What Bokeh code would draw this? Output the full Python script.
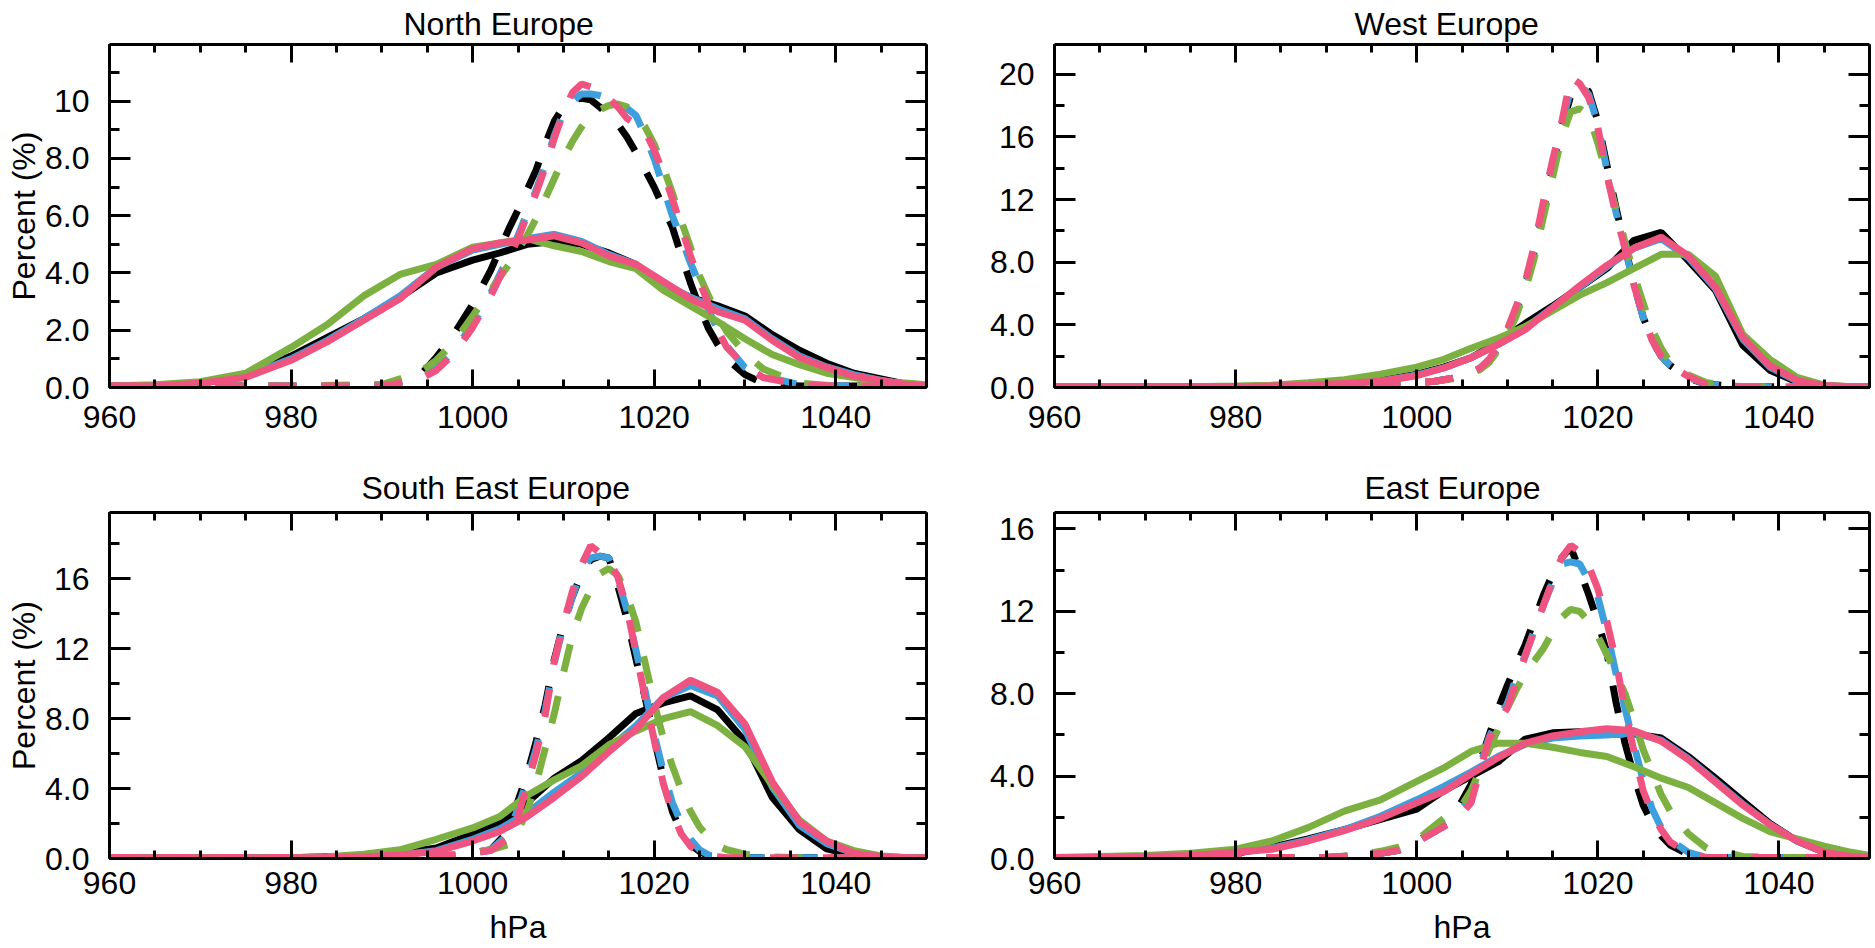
from bokeh.plotting import figure
from bokeh.layouts import column, row
from bokeh.models import Range1d, LinearAxis, SingleIntervalTicker, CustomJSTickFormatter
from bokeh.embed import file_html
from bokeh.resources import INLINE

# pressure bins (hPa) for the solid and the dashed curves
x_solid = [960, 965, 970, 975, 980, 984, 988, 992, 996, 1000, 1003, 1006, 1009, 1012,
           1015, 1018, 1021, 1024, 1027, 1030, 1033, 1036, 1039, 1042, 1045, 1048, 1050]
x_dash = [960, 970, 980, 990, 994, 996, 998, 1000, 1002, 1004, 1005, 1006, 1007, 1008,
          1009, 1010, 1011, 1012, 1013, 1014, 1015, 1016, 1017, 1018, 1019, 1020, 1021,
          1022, 1023, 1024, 1025, 1026, 1027, 1028, 1030, 1032, 1036, 1040, 1050]

# North Europe (percent)
north_black = [0.05, 0.05, 0.15, 0.4, 1.1, 1.75, 2.4, 3.15, 4.0, 4.45, 4.7, 5.0, 5.1, 5.0, 4.7, 4.3, 3.55, 3.15, 2.85, 2.5, 1.85, 1.3, 0.85, 0.5, 0.3, 0.1, 0.05]
north_blue = [0.05, 0.05, 0.15, 0.4, 1.0, 1.65, 2.4, 3.2, 4.2, 4.8, 5.0, 5.2, 5.35, 5.1, 4.65, 4.3, 3.65, 3.15, 2.75, 2.4, 1.7, 1.1, 0.72, 0.45, 0.25, 0.1, 0.05]
north_green = [0.05, 0.1, 0.2, 0.5, 1.4, 2.2, 3.2, 3.95, 4.3, 4.9, 5.05, 5.2, 4.95, 4.75, 4.4, 4.15, 3.4, 2.85, 2.3, 1.7, 1.15, 0.8, 0.5, 0.35, 0.2, 0.15, 0.1]
north_pink = [0.05, 0.05, 0.15, 0.35, 0.95, 1.6, 2.35, 3.1, 4.2, 4.85, 5.05, 5.15, 5.3, 5.05, 4.6, 4.3, 3.7, 3.1, 2.65, 2.35, 1.65, 1.05, 0.7, 0.4, 0.25, 0.1, 0.05]
north_black_d = [0.05, 0.05, 0.05, 0.05, 0.35, 1.05, 1.9, 2.9, 4.1, 5.55, 6.2, 6.9, 7.6, 8.5, 9.3, 9.8, 10.05, 10.1, 10.05, 9.8, 9.5, 9.2, 8.75, 8.2, 7.6, 7.0, 6.3, 5.6, 4.6, 3.65, 2.8, 2.05, 1.5, 1.0, 0.45, 0.15, 0.05, 0.05, 0.05]
north_blue_d = [0.05, 0.05, 0.05, 0.1, 0.3, 0.65, 1.3, 2.2, 3.3, 4.6, 5.3, 6.1, 6.9, 7.8, 8.8, 9.6, 10.0, 10.25, 10.25, 10.2, 10.1, 9.95, 9.75, 9.5, 8.8, 8.0, 7.0, 6.0, 5.2, 4.35, 3.6, 2.7, 2.0, 1.45, 0.7, 0.4, 0.1, 0.05, 0.05]
north_green_d = [0.05, 0.05, 0.05, 0.1, 0.5, 0.95, 1.6, 2.5, 3.4, 4.3, 4.8, 5.3, 5.9, 6.6, 7.3, 8.0, 8.6, 9.1, 9.5, 9.7, 9.85, 9.9, 9.8, 9.5, 9.1, 8.5, 7.7, 6.8, 5.8, 4.9, 3.9, 3.2, 2.5, 1.95, 1.2, 0.65, 0.15, 0.05, 0.05]
north_pink_d = [0.05, 0.05, 0.05, 0.05, 0.25, 0.6, 1.2, 2.1, 3.2, 4.5, 5.2, 6.0, 6.8, 7.7, 8.7, 9.6, 10.3, 10.6, 10.5, 10.3, 10.1, 9.8, 9.4, 9.2, 8.95, 8.3, 7.5, 6.6, 5.6, 4.6, 3.7, 2.9, 2.0, 1.4, 0.75, 0.35, 0.1, 0.05, 0.05]

# West Europe
west_black = [0.05, 0.05, 0.05, 0.05, 0.05, 0.1, 0.15, 0.25, 0.45, 0.85, 1.3, 1.9, 2.9, 4.1, 5.2, 6.4, 7.6, 9.4, 9.9, 8.1, 6.2, 2.7, 1.1, 0.35, 0.1, 0.05, 0.05]
west_blue = [0.05, 0.05, 0.05, 0.05, 0.05, 0.1, 0.15, 0.25, 0.4, 0.8, 1.25, 1.9, 2.75, 3.8, 5.1, 6.4, 7.7, 8.9, 9.5, 8.3, 6.3, 3.1, 1.3, 0.4, 0.1, 0.05, 0.05]
west_green = [0.05, 0.05, 0.05, 0.05, 0.1, 0.15, 0.3, 0.5, 0.85, 1.3, 1.8, 2.5, 3.15, 3.9, 4.9, 5.9, 6.7, 7.6, 8.5, 8.5, 7.1, 3.4, 1.8, 0.65, 0.15, 0.05, 0.05]
west_pink = [0.05, 0.05, 0.05, 0.05, 0.05, 0.1, 0.15, 0.25, 0.4, 0.75, 1.25, 1.9, 2.75, 3.7, 5.1, 6.5, 7.8, 8.9, 9.6, 8.4, 6.4, 3.2, 1.4, 0.45, 0.12, 0.05, 0.05]
west_black_d = [0.05, 0.05, 0.05, 0.05, 0.1, 0.15, 0.2, 0.3, 0.4, 0.6, 0.75, 0.95, 1.2, 1.7, 2.6, 3.5, 4.9, 6.5, 8.7, 11.4, 14.0, 16.6, 18.6, 19.3, 18.9, 17.0, 14.2, 11.5, 9.0, 6.6, 4.5, 3.0, 2.0, 1.4, 0.6, 0.2, 0.05, 0.05, 0.05]
west_blue_d = [0.05, 0.05, 0.05, 0.05, 0.1, 0.15, 0.2, 0.3, 0.4, 0.6, 0.75, 0.95, 1.25, 1.75, 2.65, 3.6, 5.0, 6.6, 8.9, 11.6, 14.2, 16.8, 19.0, 19.4, 18.7, 16.8, 13.9, 11.2, 8.9, 6.5, 4.5, 3.0, 2.0, 1.4, 0.65, 0.2, 0.05, 0.05, 0.05]
west_green_d = [0.05, 0.05, 0.05, 0.05, 0.1, 0.15, 0.2, 0.3, 0.4, 0.55, 0.7, 0.9, 1.15, 1.6, 2.4, 3.3, 4.6, 6.2, 8.3, 10.9, 13.4, 16.0, 17.6, 17.8, 17.4, 15.6, 13.5, 11.4, 9.3, 7.2, 5.4, 3.7, 2.5, 1.6, 0.8, 0.3, 0.05, 0.05, 0.05]
west_pink_d = [0.05, 0.05, 0.05, 0.05, 0.1, 0.15, 0.2, 0.3, 0.4, 0.6, 0.75, 0.95, 1.25, 1.8, 2.7, 3.7, 5.2, 6.8, 9.1, 11.9, 14.5, 16.9, 19.8, 19.4, 18.5, 16.6, 13.6, 11.0, 8.9, 6.5, 4.6, 3.0, 2.0, 1.4, 0.7, 0.2, 0.05, 0.05, 0.05]

# South East Europe
se_black = [0.05, 0.05, 0.05, 0.05, 0.05, 0.1, 0.15, 0.3, 0.6, 1.4, 2.0, 3.2, 4.6, 5.6, 6.9, 8.3, 8.9, 9.3, 8.5, 6.7, 3.5, 1.65, 0.55, 0.2, 0.05, 0.05, 0.05]
se_blue = [0.05, 0.05, 0.05, 0.05, 0.05, 0.05, 0.1, 0.2, 0.45, 1.1, 1.7, 2.6, 3.8, 4.9, 6.3, 7.6, 9.2, 9.9, 9.3, 7.4, 4.1, 1.9, 0.85, 0.3, 0.1, 0.05, 0.05]
se_green = [0.05, 0.05, 0.05, 0.05, 0.05, 0.1, 0.25, 0.5, 1.1, 1.75, 2.4, 3.6, 4.5, 5.3, 6.5, 7.3, 8.0, 8.4, 7.6, 6.4, 4.2, 2.2, 1.0, 0.45, 0.15, 0.05, 0.05]
se_pink = [0.05, 0.05, 0.05, 0.05, 0.05, 0.05, 0.1, 0.2, 0.4, 1.0, 1.55, 2.4, 3.5, 4.7, 6.1, 7.4, 9.2, 10.2, 9.5, 7.7, 4.4, 2.1, 1.0, 0.3, 0.1, 0.05, 0.05]
se_black_d = [0.05, 0.05, 0.05, 0.05, 0.1, 0.15, 0.2, 0.3, 0.5, 1.6, 3.3, 4.8, 6.7, 8.8, 11.4, 13.4, 15.0, 16.3, 17.1, 17.3, 17.2, 15.6, 13.7, 11.4, 9.2, 6.9, 4.6, 2.7, 1.5, 0.8, 0.4, 0.15, 0.1, 0.05, 0.05, 0.05, 0.05, 0.05, 0.05]
se_blue_d = [0.05, 0.05, 0.05, 0.05, 0.1, 0.15, 0.2, 0.3, 0.5, 1.4, 2.9, 4.5, 6.3, 8.5, 11.2, 13.3, 15.0, 16.5, 17.2, 17.3, 17.2, 16.0, 14.2, 11.9, 9.6, 7.1, 5.0, 3.2, 2.0, 1.1, 0.5, 0.2, 0.1, 0.05, 0.05, 0.05, 0.05, 0.05, 0.05]
se_green_d = [0.05, 0.05, 0.05, 0.05, 0.1, 0.15, 0.2, 0.35, 0.5, 0.8, 1.6, 2.7, 4.3, 6.3, 8.3, 10.6, 12.8, 14.3, 15.4, 16.3, 16.6, 16.2, 15.1, 13.5, 11.2, 8.9, 6.9, 5.3, 3.9, 2.7, 1.8, 1.2, 0.75, 0.5, 0.25, 0.1, 0.05, 0.05, 0.05]
se_pink_d = [0.05, 0.05, 0.05, 0.05, 0.1, 0.15, 0.2, 0.3, 0.45, 1.2, 2.4, 4.2, 6.0, 8.2, 11.3, 13.4, 15.3, 16.8, 17.9, 17.5, 17.1, 16.1, 14.3, 11.8, 9.2, 6.8, 4.3, 2.6, 1.4, 0.7, 0.35, 0.15, 0.1, 0.05, 0.05, 0.05, 0.05, 0.05, 0.05]

# East Europe
east_black = [0.05, 0.05, 0.1, 0.15, 0.25, 0.55, 0.95, 1.4, 1.9, 2.4, 3.3, 4.0, 4.7, 5.8, 6.1, 6.15, 6.05, 6.05, 5.85, 4.95, 3.9, 2.8, 1.7, 0.85, 0.3, 0.1, 0.05]
east_blue = [0.05, 0.05, 0.1, 0.15, 0.3, 0.5, 0.9, 1.4, 2.05, 2.85, 3.5, 4.2, 4.95, 5.55, 5.85, 5.95, 6.0, 6.1, 5.75, 4.85, 3.75, 2.65, 1.65, 0.85, 0.3, 0.1, 0.05]
east_green = [0.05, 0.1, 0.15, 0.25, 0.45, 0.85, 1.5, 2.3, 2.85, 3.75, 4.4, 5.2, 5.6, 5.6, 5.4, 5.15, 4.95, 4.45, 3.9, 3.45, 2.7, 1.95, 1.3, 0.95, 0.6, 0.3, 0.15]
east_pink = [0.05, 0.05, 0.1, 0.15, 0.3, 0.45, 0.85, 1.35, 1.95, 2.7, 3.25, 4.1, 4.9, 5.6, 5.95, 6.15, 6.3, 6.2, 5.7, 4.8, 3.7, 2.6, 1.65, 0.85, 0.3, 0.1, 0.05]
east_black_d = [0.05, 0.05, 0.05, 0.05, 0.15, 0.25, 0.4, 0.8, 1.4, 2.1, 2.8, 3.6, 4.7, 6.0, 7.3, 8.4, 9.4, 10.4, 11.6, 12.8, 13.8, 14.6, 15.1, 14.0, 12.8, 11.5, 10.0, 7.6, 5.6, 4.0, 2.6, 1.7, 1.1, 0.65, 0.2, 0.05, 0.05, 0.05, 0.05]
east_blue_d = [0.05, 0.05, 0.05, 0.05, 0.15, 0.25, 0.4, 0.8, 1.3, 1.9, 2.4, 3.0, 4.5, 5.9, 6.8, 7.5, 8.8, 9.9, 11.1, 12.3, 13.4, 14.3, 14.4, 14.3, 13.5, 12.7, 11.0, 9.0, 7.3, 5.5, 3.8, 2.4, 1.5, 0.9, 0.3, 0.05, 0.05, 0.05, 0.05]
east_green_d = [0.05, 0.05, 0.05, 0.05, 0.2, 0.35, 0.55, 0.9, 1.6, 2.3, 2.6, 3.3, 4.3, 5.3, 6.3, 7.3, 8.2, 9.0, 9.6, 10.2, 11.0, 11.7, 12.1, 12.0, 11.5, 10.8, 9.9, 9.0, 8.0, 6.7, 5.3, 4.2, 3.1, 2.3, 1.2, 0.5, 0.1, 0.05, 0.05]
east_pink_d = [0.05, 0.05, 0.05, 0.05, 0.15, 0.25, 0.4, 0.8, 1.3, 1.8, 2.2, 2.7, 4.3, 5.8, 6.6, 7.3, 8.6, 9.85, 11.1, 12.3, 13.5, 14.6, 15.2, 14.9, 14.2, 13.1, 11.5, 9.6, 7.2, 5.2, 3.3, 2.2, 1.4, 0.8, 0.25, 0.05, 0.05, 0.05, 0.05]

# drawing order: black, blue, green, pink (pink ends on top)
COLORS = ["#000000", "#3d9fdb", "#7cb141", "#ef5380"]
FONT = "Liberation Sans"
FSIZE = "32px"


def style_axis(ax, major_len, minor_len):
    ax.axis_line_width = 3
    ax.axis_line_color = "black"
    ax.major_tick_line_width = 3
    ax.minor_tick_line_width = 3
    ax.major_tick_line_color = "black"
    ax.minor_tick_line_color = "black"
    ax.major_tick_in = major_len
    ax.major_tick_out = 0
    ax.minor_tick_in = minor_len
    ax.minor_tick_out = 0
    ax.major_label_text_font = FONT
    ax.major_label_text_font_size = FSIZE
    ax.major_label_text_color = "black"
    ax.axis_label_text_font = FONT
    ax.axis_label_text_font_size = FSIZE
    ax.axis_label_text_font_style = "normal"
    ax.axis_label_text_color = "black"


def blank_axis(ticker, major_len, minor_len):
    # mirror axis: ticks only, no labels
    ax = LinearAxis(ticker=ticker, formatter=CustomJSTickFormatter(code="return '';"))
    style_axis(ax, major_len, minor_len)
    ax.major_label_text_font_size = "1px"
    ax.major_label_standoff = 0
    return ax


def make_panel(title, ymax, ystep, solid, dashed, width, height, borders,
               title_offset, title_standoff, x_standoff, ylabel=False, xlabel=False):
    left, right, top, bottom = borders
    p = figure(width=width, height=height, title=title,
               x_range=Range1d(960, 1050), y_range=Range1d(0, ymax),
               output_backend="svg", toolbar_location=None,
               min_border_left=left, min_border_right=right,
               min_border_top=top, min_border_bottom=bottom)
    p.grid.visible = False
    p.outline_line_color = None
    p.background_fill_color = "white"
    p.border_fill_color = "white"

    # title sits a little left of the frame centre in the original
    p.title.text_font = FONT
    p.title.text_font_size = FSIZE
    p.title.text_font_style = "normal"
    p.title.text_color = "black"
    p.title.align = "left"
    p.title.offset = title_offset
    p.title.standoff = title_standoff

    xt = SingleIntervalTicker(interval=20, num_minor_ticks=4)
    yt = SingleIntervalTicker(interval=ystep, num_minor_ticks=2)

    xa = p.below[0]
    xa.ticker = xt
    style_axis(xa, 18, 8)
    xa.major_label_standoff = x_standoff
    if xlabel:
        xa.axis_label = "hPa"
        xa.axis_label_standoff = 12

    ya = p.left[0]
    ya.ticker = yt
    ya.formatter = CustomJSTickFormatter(code="return tick < 10 ? tick.toFixed(1) : tick.toFixed(0);")
    style_axis(ya, 21, 10)
    ya.major_label_standoff = 20
    if ylabel:
        ya.axis_label = "Percent (%)"
        ya.axis_label_standoff = 0

    p.add_layout(blank_axis(xt, 18, 8), "above")
    p.add_layout(blank_axis(yt, 21, 10), "right")

    for color, ys, yd in zip(COLORS, solid, dashed):
        p.line(x_solid, ys, line_color=color, line_width=7)
        p.line(x_dash, yd, line_color=color, line_width=7, line_dash="28 25")
    return p


# the page template has no body margin: the grid fills 1874 x 947
p1 = make_panel("North Europe", 11.98, 2,
                [north_black, north_blue, north_green, north_pink],
                [north_black_d, north_blue_d, north_green_d, north_pink_d],
                984, 458, (109, 58, 44, 71), 294, 6, 18, ylabel=True)
p2 = make_panel("West Europe", 21.9, 4,
                [west_black, west_blue, west_green, west_pink],
                [west_black_d, west_blue_d, west_green_d, west_pink_d],
                890, 458, (70, 5, 44, 71), 300, 6, 18)
p3 = make_panel("South East Europe", 19.8, 4,
                [se_black, se_blue, se_green, se_pink],
                [se_black_d, se_blue_d, se_green_d, se_pink_d],
                984, 489, (109, 58, 54, 89), 252, 14, 13, ylabel=True, xlabel=True)
p4 = make_panel("East Europe", 16.8, 4,
                [east_black, east_blue, east_green, east_pink],
                [east_black_d, east_blue_d, east_green_d, east_pink_d],
                890, 489, (70, 5, 54, 89), 310, 14, 13, xlabel=True)

layout = column(row(p1, p2), row(p3, p4))

open("out.html", "w").write(file_html(layout, INLINE))
